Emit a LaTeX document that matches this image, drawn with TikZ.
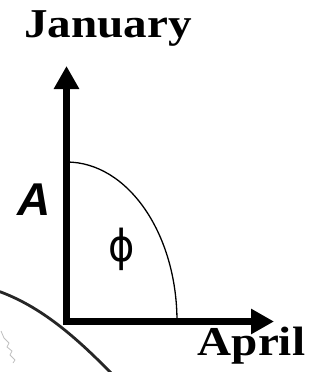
\documentclass[tikz,border=0pt]{standalone}
\usepackage{fontspec}
\usetikzlibrary{arrows.meta}
\setmainfont{Liberation Serif}
\newfontfamily\arialfont{Liberation Sans}
\newfontfamily\greekfont{DejaVu Sans}
\begin{document}
\begin{tikzpicture}[x=1pt, y=-1pt, line cap=butt, line join=miter,
  axis/.style={line width=7pt, -{Triangle[width=24pt,length=23pt]}},
  monthlabel/.style={anchor=base, inner sep=0pt, xscale=1.15,
    font=\fontsize{41}{49}\selectfont\bfseries}]

  %% ==== globe edge (bottom left) ====
  \draw[line width=2.8pt, black!85] (-2,291) .. controls (40,306) and (75,336) .. (112,374);
  \draw[line width=0.8pt, black!25, line join=round]
    (1,331) -- (4,338) -- (9,343) -- (7,347) -- (12,351) -- (10,355) -- (15,360) -- (13,363);

  %% ==== axes ====
  \coordinate (origin) at (66.5,321.5);
  \coordinate (ytip)   at (66.5,66);
  \coordinate (xtip)   at (274,321.5);
  \draw[axis] ([yshift=-3.5pt]origin) -- (ytip);
  \draw[axis] (origin) -- (xtip);

  %% ==== quarter ellipse ====
  \draw[line width=1.3pt] (66.5,162) arc[start angle=-90, end angle=0, x radius=110.5, y radius=159.5];

  %% ==== labels ====
  \node[monthlabel] (january) at (108,37) {January};
  \node[monthlabel] (april)   at (251.5,355) {April};
  \node[anchor=base, inner sep=0pt, font=\fontsize{46}{55}\selectfont\arialfont\bfseries\itshape] (amp) at (34,215) {A};
  \node[anchor=center, inner sep=0pt, yscale=1.1, font=\fontsize{40}{48}\selectfont\greekfont] (phase) at (122,249) {ϕ};

  \pgfresetboundingbox
  \path[use as bounding box] (0,0) rectangle (320,372);
\end{tikzpicture}
\end{document}
